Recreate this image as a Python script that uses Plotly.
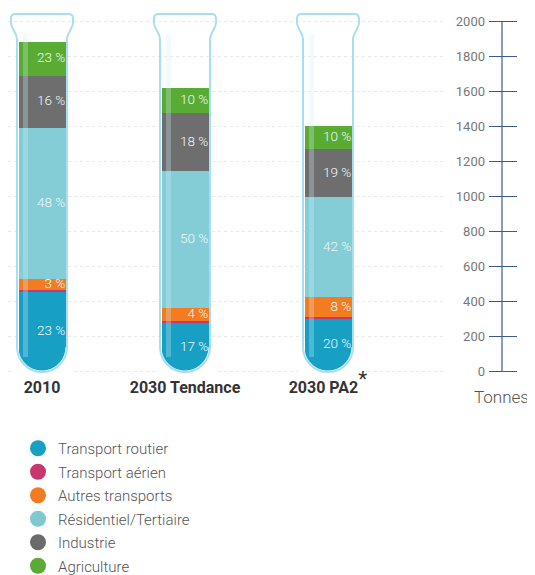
import plotly.graph_objects as go

# ---------------- data (tonnes) ----------------
categories = ["2010", "2030 Tendance", "2030 PA2"]
category_labels = ["2010", "2030 Tendance",
                   "2030 PA2<sup><span style='font-size:21px;font-weight:normal'>*</span></sup>"]

sectors = ["Transport routier", "Transport aérien", "Autres transports",
           "Résidentiel/Tertiaire", "Industrie", "Agriculture"]

transport_routier = [455, 272, 300]
transport_aerien = [8, 12, 8]
autres_transports = [62, 74, 114]
residentiel_tertiaire = [865, 783, 571]
industrie = [297, 331, 274]
agriculture = [193, 143, 131]

labels_routier = ["23 %", "17 %", "20 %"]
labels_aerien = ["", "", ""]
labels_autres = ["3 %", "4 %", "8 %"]
labels_residentiel = ["48 %", "50 %", "42 %"]
labels_industrie = ["16 %", "18 %", "19 %"]
labels_agriculture = ["23 %", "10 %", "10 %"]

tick_values = [0, 200, 400, 600, 800, 1000, 1200, 1400, 1600, 1800, 2000]

colors = ["#17a0c3", "#c8386e", "#f47c20", "#84cdd6", "#6e6e6e", "#5aab33"]
legend_colors = ["#17a0c3", "#c8386e", "#f47c20", "#7fc9d1", "#6b6b6b", "#5aab33"]

series = [transport_routier, transport_aerien, autres_transports,
          residentiel_tertiaire, industrie, agriculture]
series_labels = [labels_routier, labels_aerien, labels_autres,
                 labels_residentiel, labels_industrie, labels_agriculture]

# ---------------- layout constants (page pixels; the page body has an 8px margin) ----------------
OFF = 8
W, H = 535 - OFF, 575 - OFF


def fx(px):
    return px - OFF


PLOT_TOP = fx(8)
PLOT_BOT = fx(376)
ZERO_PX = fx(371)      # pixel row of y = 0
PX_PER_T = 0.175       # pixels per tonne
PX_PER_CAT = 143       # pixels between tube centres
FIRST_CX = fx(42)      # pixel column of first tube centre
X_DOMAIN_PX = fx(445)

y_max = (ZERO_PX - PLOT_TOP) / PX_PER_T
y_min = -(PLOT_BOT - ZERO_PX) / PX_PER_T
x_min = -FIRST_CX / PX_PER_CAT
x_max = (X_DOMAIN_PX - FIRST_CX) / PX_PER_CAT

bar_w_px = 47
bar_width = bar_w_px / PX_PER_CAT
xpos = list(range(len(categories)))


def P(i, dx, ypx_ref):
    """pixel offset from tube centre / reference pixel row -> data coords"""
    return (i + dx / PX_PER_CAT, (ZERO_PX - fx(ypx_ref)) / PX_PER_T)


def fmt(pt):
    return f"{pt[0]:.5f},{pt[1]:.3f}"


def ppx(px):
    return fx(px) / W


def ppy(py):
    return (H - fx(py)) / H


fig = go.Figure()

# stacked liquid
for name, vals, col in zip(sectors, series, colors):
    fig.add_trace(go.Bar(x=xpos, y=vals, name=name, marker=dict(color=col, line=dict(width=0)),
                         width=bar_width, showlegend=False, hoverinfo="skip"))

# percentage labels (right aligned inside each segment)
for kk, (vals, labs) in enumerate(zip(series, series_labels)):
    xs, ys, ts = [], [], []
    for i in xpos:
        base = sum(series[j][i] for j in range(kk))
        if labs[i]:
            xs.append(i + 0.163)
            ys.append(base + vals[i] / 2)
            ts.append(labs[i])
    if xs:
        fig.add_trace(go.Scatter(x=xs, y=ys, text=ts, mode="text", textposition="middle left",
                                 textfont=dict(family="Roboto", size=13.5, color="#eef8f8", weight=300),
                                 showlegend=False, hoverinfo="skip"))

# legend entries (circles)
for name, col in zip(sectors, legend_colors):
    fig.add_trace(go.Scatter(x=[None], y=[None], mode="markers", name=name, legendgroup=name,
                             marker=dict(symbol="circle", size=19, color=col)))

# ---------------- tube decoration ----------------
shapes = []
k = 0.5523
r_liq = bar_w_px / 2
c_y = 347
for i in xpos:
    # white mask rounding the bottom of the liquid
    bot = c_y + r_liq
    p = ["M" + fmt(P(i, -30, c_y)),
         "L" + fmt(P(i, -r_liq, c_y)),
         "C" + fmt(P(i, -r_liq, c_y + k * r_liq)) + " " + fmt(P(i, -k * r_liq, bot)) + " " + fmt(P(i, 0, bot)),
         "C" + fmt(P(i, k * r_liq, bot)) + " " + fmt(P(i, r_liq, c_y + k * r_liq)) + " " + fmt(P(i, r_liq, c_y)),
         "L" + fmt(P(i, 30, c_y)),
         "L" + fmt(P(i, 30, 385)),
         "L" + fmt(P(i, -30, 385)), "Z"]
    shapes.append(dict(type="path", path=" ".join(p), xref="x", yref="y",
                       fillcolor="white", line=dict(width=0), layer="above"))
    # glass highlight stripe
    x0, y0 = P(i, -19, 357)
    x1, y1 = P(i, -14, 34)
    shapes.append(dict(type="rect", x0=x0, x1=x1, y0=y0, y1=y1, xref="x", yref="y",
                       fillcolor="rgba(210,238,248,0.30)", line=dict(width=0), layer="above"))
    # glass outline
    R = 25
    ob = c_y + R
    p = ["M" + fmt(P(i, -R, 40)),
         "C" + fmt(P(i, -R, 32)) + " " + fmt(P(i, -31, 29)) + " " + fmt(P(i, -31, 23)),
         "L" + fmt(P(i, -31, 19)),
         "C" + fmt(P(i, -31, 16)) + " " + fmt(P(i, -30, 14)) + " " + fmt(P(i, -27, 14)),
         "L" + fmt(P(i, 27, 14)),
         "C" + fmt(P(i, 30, 14)) + " " + fmt(P(i, 31, 16)) + " " + fmt(P(i, 31, 19)),
         "L" + fmt(P(i, 31, 23)),
         "C" + fmt(P(i, 31, 29)) + " " + fmt(P(i, R, 32)) + " " + fmt(P(i, R, 40)),
         "L" + fmt(P(i, R, c_y)),
         "C" + fmt(P(i, R, c_y + k * R)) + " " + fmt(P(i, k * R, ob)) + " " + fmt(P(i, 0, ob)),
         "C" + fmt(P(i, -k * R, ob)) + " " + fmt(P(i, -R, c_y + k * R)) + " " + fmt(P(i, -R, c_y)),
         "Z"]
    shapes.append(dict(type="path", path=" ".join(p), xref="x", yref="y",
                       line=dict(color="#a9def0", width=2), layer="above"))

# axis line of the tonnage scale
AXIS_X = ppx(502)
shapes.append(dict(type="line", xref="paper", yref="y", x0=AXIS_X, x1=AXIS_X,
                   y0=tick_values[0], y1=tick_values[-1],
                   line=dict(color="#3d5a8f", width=1.2)))

fig.update_layout(
    width=W, height=H,
    margin=dict(l=0, r=0, t=0, b=0, pad=0, autoexpand=False),
    paper_bgcolor="white", plot_bgcolor="white",
    barmode="stack", bargap=0,
    font=dict(family="Roboto", color="#555"),
    xaxis=dict(domain=[0, X_DOMAIN_PX / W], range=[x_min, x_max],
               tickvals=xpos, ticktext=category_labels,
               tickfont=dict(family="Roboto", size=16, color="#333", weight="bold"),
               showgrid=False, zeroline=False, showline=False, ticks=""),
    yaxis=dict(domain=[(H - PLOT_BOT) / H, (H - PLOT_TOP) / H],
               range=[y_min, y_max], tickvals=tick_values,
               side="right", anchor="free", position=ppx(488),
               ticks="outside", ticklen=28, tickcolor="#3d5a8f", tickwidth=1,
               ticklabelposition="inside", ticklabeloverflow="allow",
               tickfont=dict(family="Roboto", size=13, color="#777"),
               showgrid=True, gridcolor="#e9e9e9", griddash="dot", gridwidth=1,
               zeroline=False, showline=False),
    legend=dict(x=10 / W, y=-7 / H, xanchor="left", yanchor="bottom",
                font=dict(family="Roboto", size=15, color="#555", weight=300),
                bgcolor="rgba(0,0,0,0)", itemsizing="trace",
                traceorder="grouped", tracegroupgap=1),
    shapes=shapes,
    annotations=[dict(text="Tonnes", xref="paper", yref="paper", x=ppx(501),
                      y=ppy(397), showarrow=False, xanchor="center",
                      yanchor="middle", font=dict(family="Roboto", size=17, color="#555", weight=300))],
)

fig.write_html("out.html")
